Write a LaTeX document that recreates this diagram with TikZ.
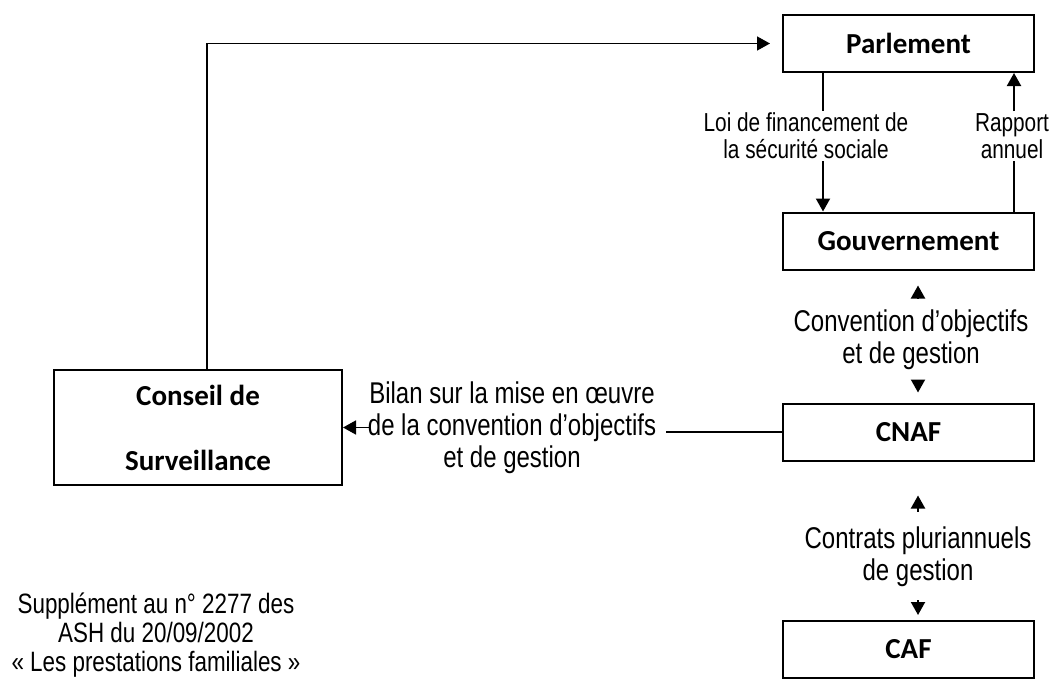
\documentclass[tikz,border=0pt]{standalone}
\usepackage{fontspec}
\usepackage{tikz}
\usetikzlibrary{arrows.meta}
\newfontfamily\narrowsans[FakeStretch=0.8]{Liberation Sans}
\newfontfamily\boxsans{Carlito}

\begin{document}
\begin{tikzpicture}[x=1pt,y=-1pt,
			org/.style={rectangle,draw=black,line width=2pt,minimum width=251pt,minimum height=57pt,inner sep=0pt,font=\boxsans\bfseries\fontsize{29}{35}\selectfont},
			lbl/.style={align=center,inner sep=2pt,font=\narrowsans\fontsize{30}{32}\selectfont},
			smalllbl/.style={align=center,inner sep=2pt,font=\narrowsans\fontsize{26}{27}\selectfont},
			link/.style={line width=1.6pt},
			arr/.style={line width=2pt,-{Triangle[length=13pt,width=14pt]}}]
		\useasboundingbox (0,0) rectangle (1054,693);
		\path 	(908.5,43.5) 	node 	(parl) [org] {Parlement}
		        (908.5,241) 	node 	(gouv) [org] {Gouvernement}
		        (908.5,432) 	node 	(cnaf) [org] {CNAF}
		        (908.5,649.5) 	node 	(caf) [org] {CAF}
		        (198,427.5) 	node 	(cons) [org, minimum width=288pt, minimum height=115pt, align=center] {Conseil de\\[30pt]Surveillance};
		\path 	(806,136) 	node 	(loi) [smalllbl] {Loi de financement de\\la sécurité sociale}
		        (1012,136) 	node 	(rap) [smalllbl] {Rapport\\annuel}
		        (911,340) 	node 	(conv) [lbl] {Convention d’objectifs\\et de gestion}
		        (918,557) 	node 	(contr) [lbl] {Contrats pluriannuels\\de gestion}
		        (512,428) 	node 	(bilan) [lbl] {Bilan sur la mise en œuvre\\de la convention d’objectifs\\et de gestion}
		        (156,635) 	node 	(ash) [lbl, font=\narrowsans\fontsize{28}{29}\selectfont] {Supplément au n° 2277 des\\ASH du 20/09/2002\\« Les prestations familiales »};
		\coordinate (xl) at (823,0);
		\coordinate (xr) at (1014,0);
		\coordinate (xc) at (918,0);
		\draw [arr, line width=1.6pt, shorten >=12pt] ([xshift=9pt]cons.north) |- (parl.west);
		\draw [link] (parl.south -| xl) -- (loi.north -| xl);
		\draw [arr] (loi.south -| xl) -- (gouv.north -| xl);
		\draw [link] (gouv.north -| xr) -- (rap.south -| xr);
		\draw [arr] (rap.north -| xr) -- (parl.south -| xr);
		\draw [arr, shorten <=10pt, shorten >=15pt] (conv.north -| xc) -- (gouv.south -| xc);
		\draw [arr, shorten <=9pt, shorten >=10pt] (conv.south -| xc) -- (cnaf.north -| xc);
		\draw [arr, shorten <=13pt, shorten >=34pt] (contr.north -| xc) -- (cnaf.south -| xc);
		\draw [arr, shorten <=11pt, shorten >=5pt] (contr.south -| xc) -- (caf.north -| xc);
		\draw [link] (cnaf.west) -- ([xshift=8pt]bilan.east |- cnaf.west);
		\draw [arr, line width=1.6pt] ([xshift=4pt]bilan.west |- cons.east) -- (cons.east);
	\end{tikzpicture}
\end{document}
